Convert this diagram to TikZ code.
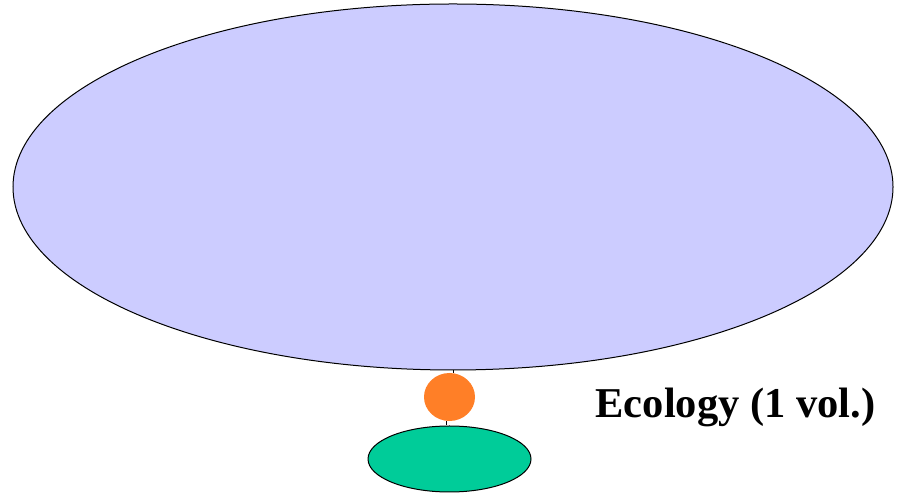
\documentclass[tikz,border=0pt]{standalone}
\usepackage{fontspec}
\setmainfont{Liberation Serif}
\usetikzlibrary{shapes.geometric}
\definecolor{bigblue}{HTML}{CCCCFF}
\definecolor{dotorange}{HTML}{FF7F27}
\definecolor{ecogreen}{HTML}{00CC99}
\tikzset{
  blob/.style={ellipse, inner sep=0pt, draw=black, line width=1pt},
  link/.style={draw=black, line width=0.5pt},
  label/.style={font=\fontsize{42.5}{50}\selectfont\bfseries, inner sep=0pt, anchor=base}
}
\begin{document}
\begin{tikzpicture}[x=1pt,y=1pt]
\useasboundingbox (0,0) rectangle (901,494);
\node[blob, fill=bigblue, minimum width=880pt, minimum height=366pt] (big) at (453,307) {};
\node[ellipse, inner sep=0pt, fill=dotorange, minimum width=51pt, minimum height=48pt] (dot) at (449.5,97) {};
\node[blob, fill=ecogreen, minimum width=163pt, minimum height=66pt] (eco) at (449.5,35) {};
\draw[link] (big.south) -- (big.south |- dot.north);
\draw[link] ([xshift=-3.5pt]dot.south) -- ([xshift=-3.5pt]dot.south |- eco.north);
\node[label] (lab) at (735.5,76) {Ecology (1 vol.)};
\end{tikzpicture}
\end{document}
